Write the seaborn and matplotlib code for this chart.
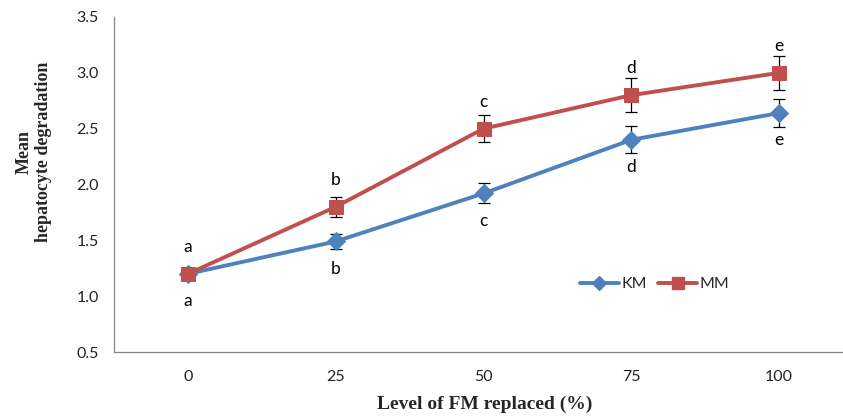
import matplotlib
matplotlib.use("Agg")
import matplotlib.pyplot as plt
import seaborn as sns
import pandas as pd
import numpy as np
from matplotlib.lines import Line2D

categories = ["0", "25", "50", "75", "100"]
km_values = [1.20, 1.49, 1.92, 2.40, 2.64]
mm_values = [1.20, 1.80, 2.50, 2.80, 3.00]
km_err = [0.03, 0.07, 0.09, 0.12, 0.125]
mm_err = [0.03, 0.09, 0.12, 0.15, 0.15]
km_letters = ["a", "b", "c", "d", "e"]
mm_letters = ["a", "b", "c", "d", "e"]
y_ticks = [0.5, 1.0, 1.5, 2.0, 2.5, 3.0, 3.5]

BLUE = "#4F81BD"
RED = "#C0504D"

sns.set_style("white")
plt.rcParams["font.family"] = ["Lato", "DejaVu Sans"]

fig = plt.figure(figsize=(8.43, 4.16), dpi=100)
ax = fig.add_axes([114 / 843, 1 - 352 / 416, (853 - 114) / 843, (352 - 17) / 416])

pos = np.arange(len(categories))
df = pd.DataFrame({
    "pos": np.concatenate([pos, pos]),
    "value": km_values + mm_values,
    "series": ["KM"] * len(pos) + ["MM"] * len(pos),
})

ax.errorbar(pos, km_values, yerr=km_err, fmt="none", ecolor="black", elinewidth=0.9,
            capsize=4, capthick=0.9, zorder=2)
ax.errorbar(pos, mm_values, yerr=mm_err, fmt="none", ecolor="black", elinewidth=0.9,
            capsize=4, capthick=0.9, zorder=2)

sns.lineplot(data=df[df.series == "KM"], x="pos", y="value", color=BLUE, lw=2.8,
             marker="D", markersize=9.5, markeredgecolor=BLUE, ax=ax, zorder=3, legend=False)
sns.lineplot(data=df[df.series == "MM"], x="pos", y="value", color=RED, lw=2.8,
             marker="s", markersize=10.5, markeredgecolor=RED, ax=ax, zorder=4, legend=False)

for i in pos:
    ax.annotate(mm_letters[i], (pos[i], mm_values[i]), xytext=(0, 19.5), textcoords="offset points",
                ha="center", va="center", fontsize=12.5, color="black")
    ax.annotate(km_letters[i], (pos[i], km_values[i]), xytext=(0, -19.5), textcoords="offset points",
                ha="center", va="center", fontsize=12.5, color="black")

ax.set_xlim(-0.5, len(categories) - 0.5)
ax.set_ylim(0.5, 3.5)
ax.set_yticks(y_ticks)
ax.set_yticklabels([f"{v:.1f}" for v in y_ticks])
ax.set_xticks(pos)
ax.set_xticklabels(categories)
ax.set_xticks(np.arange(-0.5, len(categories) + 0.5, 1), minor=True)
ax.tick_params(axis="x", which="major", length=0, pad=13, labelsize=11.5, colors="#222222")
ax.tick_params(axis="x", which="minor", length=5, width=0.9, color="#868686", direction="out")
ax.tick_params(axis="y", which="major", length=5, width=0.9, color="#868686", direction="out",
               labelsize=11.5, pad=6, labelcolor="#222222")

for s in ["top", "right"]:
    ax.spines[s].set_visible(False)
for s in ["left", "bottom"]:
    ax.spines[s].set_color("#868686")
    ax.spines[s].set_linewidth(0.9)

ax.set_xlabel("")
ax.set_ylabel("")
fig.text(485 / 843, 1 - 404 / 416, "Level of FM replaced (%)", ha="center", va="center",
         fontsize=14, fontweight="bold", family="Liberation Serif")
fig.text(34 / 843, 1 - 152 / 416, "Mean\nhepatocyte degradation", ha="center", va="center",
         rotation=90, fontsize=13, fontweight="bold", family="Liberation Serif", linespacing=1.2)

handles = [
    Line2D([], [], color=BLUE, lw=2.8, marker="D", markersize=7),
    Line2D([], [], color=RED, lw=2.8, marker="s", markersize=8),
]
fig.legend(handles, ["KM", "MM"], loc="center", bbox_to_anchor=(655 / 843, 1 - 284 / 416),
           ncol=2, frameon=False, fontsize=11.5, handlelength=2.4, handletextpad=0.2,
           columnspacing=0.7)

fig.savefig("out.png", dpi=100)
